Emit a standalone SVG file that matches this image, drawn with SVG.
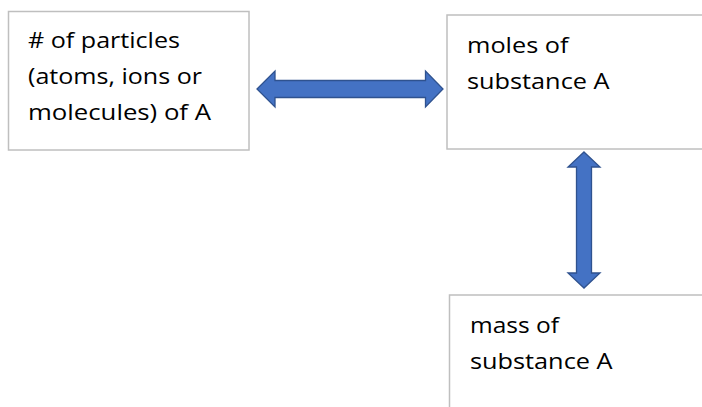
<svg xmlns="http://www.w3.org/2000/svg" width="702" height="407" viewBox="0 0 702 407">
<style>
.box{fill:#ffffff;stroke:#bfbfbf;stroke-width:1.5}
.t{font-family:"Open Sans","Liberation Sans",sans-serif;font-size:22.5px;fill:#000000}
.arrow{fill:#4472c4;stroke:#2f528f;stroke-width:1.3;stroke-linejoin:miter}
</style>
<rect width="702" height="407" fill="#ffffff"/>
<g id="node-particles">
<rect class="box" x="8.5" y="11.5" width="240.5" height="138.5"/>
<text class="t" x="28" y="48" textLength="152" lengthAdjust="spacingAndGlyphs"># of particles</text>
<text class="t" x="28" y="84" textLength="174" lengthAdjust="spacingAndGlyphs">(atoms, ions or</text>
<text class="t" x="28" y="120" textLength="183" lengthAdjust="spacingAndGlyphs">molecules) of A</text>
</g>
<g id="node-moles">
<rect class="box" x="447" y="15" width="270" height="134"/>
<text class="t" x="467" y="53" textLength="101.5" lengthAdjust="spacingAndGlyphs">moles of</text>
<text class="t" x="467" y="89" textLength="142.5" lengthAdjust="spacingAndGlyphs">substance A</text>
</g>
<g id="node-mass">
<rect class="box" x="449.5" y="295" width="270" height="130"/>
<text class="t" x="470" y="333" textLength="89" lengthAdjust="spacingAndGlyphs">mass of</text>
<text class="t" x="470" y="369" textLength="142.5" lengthAdjust="spacingAndGlyphs">substance A</text>
</g>
<g id="connectors">
<polygon class="arrow" points="257,89 275,71 275,80.5 425.5,80.5 425.5,71 443,89 425.5,107 425.5,97.5 275,97.5 275,107"/>
<polygon class="arrow" points="584,152 600,167 591.5,167 591.5,273 600,273 584,288 568,273 576.5,273 576.5,167 568,167"/>
</g>
</svg>
